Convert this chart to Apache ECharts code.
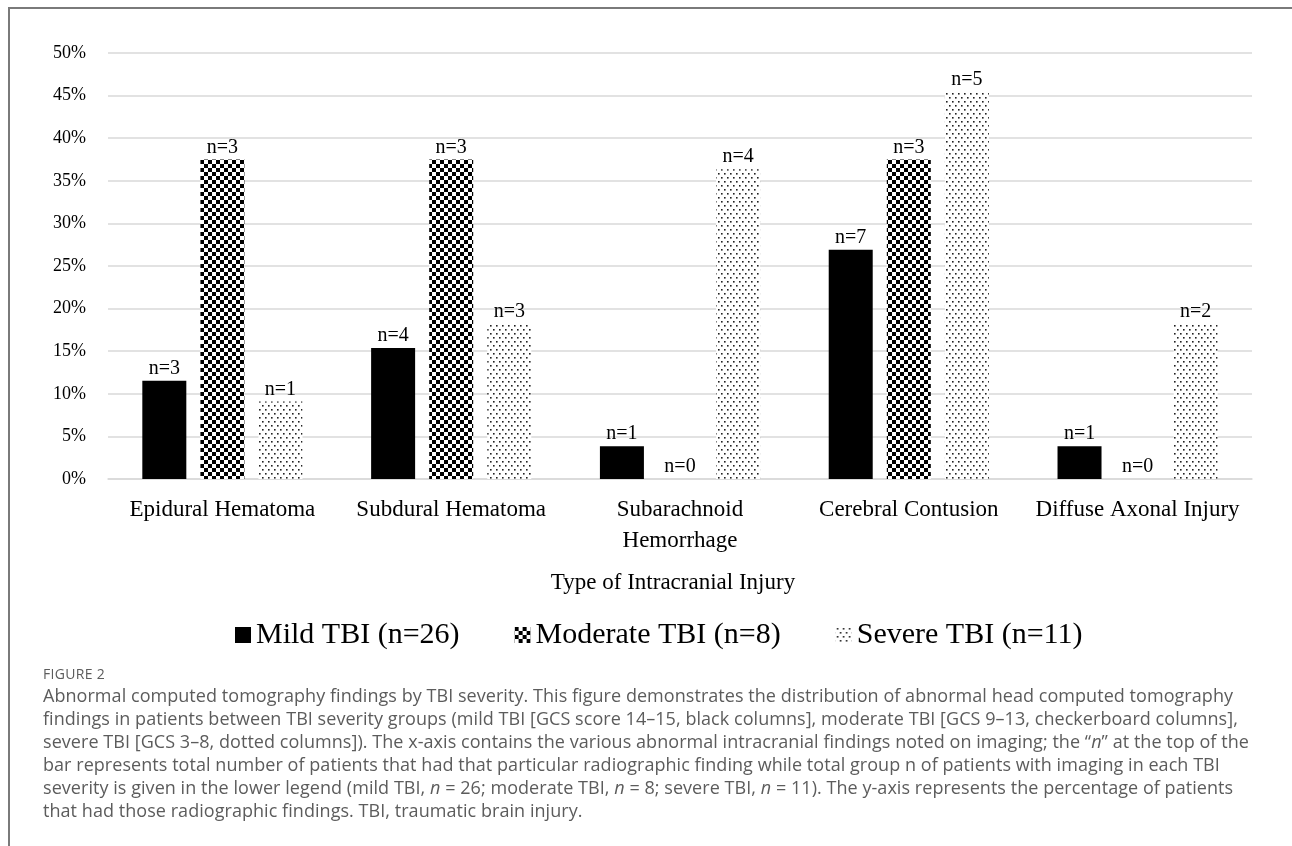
<!DOCTYPE html>
<html>
<head>
<meta charset="utf-8">
<script src="https://cdn.jsdelivr.net/npm/echarts@6/dist/echarts.min.js"></script>
<style>
  html, body { margin: 0; padding: 0; background: #fff; }
  #frame {
    position: absolute; left: 8px; top: 7px; width: 1284px; height: 839px;
    border-left: 2px solid #7a7a7a; border-top: 2px solid #7a7a7a;
  }
  #chart { position: absolute; left: 0; top: 0; width: 1292px; height: 846px; }
  #caption {
    position: absolute; left: 43px; top: 663px;
    font-family: 'Open Sans', sans-serif; color: #5c5c5c; white-space: nowrap;
  }
  #caption .head { font-size: 14px; line-height: 21px; letter-spacing: 0.3px; }
  #caption .body { font-size: 18px; line-height: 23px; letter-spacing: 0.05px; }
</style>
</head>
<body>
<div id="frame"></div>
<div id="chart"></div>
<div id="caption">
  <div class="head">FIGURE 2</div>
  <div class="body">
    Abnormal computed tomography findings by TBI severity. This figure demonstrates the distribution of abnormal head computed tomography<br>
    findings in patients between TBI severity groups (mild TBI [GCS score 14–15, black columns], moderate TBI [GCS 9–13, checkerboard columns],<br>
    severe TBI [GCS 3–8, dotted columns]). The x-axis contains the various abnormal intracranial findings noted on imaging; the “<i>n</i>” at the top of the<br>
    bar represents total number of patients that had that particular radiographic finding while total group n of patients with imaging in each TBI<br>
    severity is given in the lower legend (mild TBI, <i>n</i> = 26; moderate TBI, <i>n</i> = 8; severe TBI, <i>n</i> = 11). The y-axis represents the percentage of patients<br>
    that had those radiographic findings. TBI, traumatic brain injury.
  </div>
</div>
<script>
  // injury types on the x axis
  var categories = ['Epidural Hematoma', 'Subdural Hematoma', 'Subarachnoid\nHemorrhage', 'Cerebral Contusion', 'Diffuse Axonal Injury'];
  var seriesNames = ['Mild TBI (n=26)', 'Moderate TBI (n=8)', 'Severe TBI (n=11)'];
  // percent of patients per group
  var mildPct = [11.54, 15.38, 3.85, 26.92, 3.85];
  var moderatePct = [37.5, 37.5, 0, 37.5, 0];
  var severePct = [9.09, 18.18, 36.36, 45.45, 18.18];
  // patient counts shown above bars
  var mildN = [3, 4, 1, 7, 1];
  var moderateN = [3, 3, 0, 3, 0];
  var severeN = [1, 3, 4, 5, 2];
  var yMin = 0, yMax = 50, yStep = 5;

  var serif = "'Liberation Serif', 'Times New Roman', serif";

  function checker() {
    var c = document.createElement('canvas');
    c.width = 8; c.height = 8;
    var ctx = c.getContext('2d');
    ctx.fillStyle = '#fff'; ctx.fillRect(0, 0, 8, 8);
    ctx.fillStyle = '#000';
    ctx.fillRect(0, 0, 4, 4);
    ctx.fillRect(4, 4, 4, 4);
    return { image: c, repeat: 'repeat' };
  }
  function dots() {
    var c = document.createElement('canvas');
    c.width = 6; c.height = 8;
    var ctx = c.getContext('2d');
    ctx.fillStyle = '#fff'; ctx.fillRect(0, 0, 6, 8);
    ctx.fillStyle = '#222';
    ctx.fillRect(1, 1, 1.6, 1.6);
    ctx.fillRect(4, 5, 1.6, 1.6);
    return { image: c, repeat: 'repeat' };
  }

  function makeSeries(name, pct, counts, fill) {
    return {
      name: name,
      type: 'bar',
      barWidth: 44,
      barGap: '32%',
      itemStyle: { color: fill },
      label: {
        show: true,
        position: 'top',
        distance: 2,
        fontFamily: serif,
        fontSize: 20,
        color: '#000',
        formatter: function (p) { return 'n=' + counts[p.dataIndex]; }
      },
      data: pct
    };
  }

  var chart = echarts.init(document.getElementById('chart'));
  chart.setOption({
    animation: false,
    grid: { left: 108, right: 40, top: 53, bottom: 367 },
    legend: {
      left: 230,
      top: 615,
      itemWidth: 16,
      itemHeight: 16,
      itemGap: 55,
      icon: 'rect',
      textStyle: { fontFamily: serif, fontSize: 30, color: '#000' },
      data: seriesNames
    },
    xAxis: {
      type: 'category',
      data: categories,
      name: 'Type of Intracranial Injury',
      nameLocation: 'middle',
      nameGap: 92,
      nameTextStyle: { fontFamily: serif, fontSize: 23, color: '#000', padding: [0, 14, 0, 0] },
      axisTick: { show: false },
      axisLine: { lineStyle: { color: '#d9d9d9', width: 1.5 } },
      axisLabel: { fontFamily: serif, fontSize: 23, color: '#000', margin: 15, lineHeight: 31, interval: 0 }
    },
    yAxis: {
      type: 'value',
      min: yMin,
      max: yMax,
      interval: yStep,
      axisLine: { show: false },
      axisTick: { show: false },
      splitLine: { lineStyle: { color: '#d9d9d9', width: 1.5 } },
      axisLabel: { fontFamily: serif, fontSize: 18, color: '#000', margin: 22, formatter: '{value}%' }
    },
    series: [
      makeSeries(seriesNames[0], mildPct, mildN, '#000'),
      makeSeries(seriesNames[1], moderatePct, moderateN, checker()),
      makeSeries(seriesNames[2], severePct, severeN, dots())
    ]
  });
</script>
</body>
</html>
